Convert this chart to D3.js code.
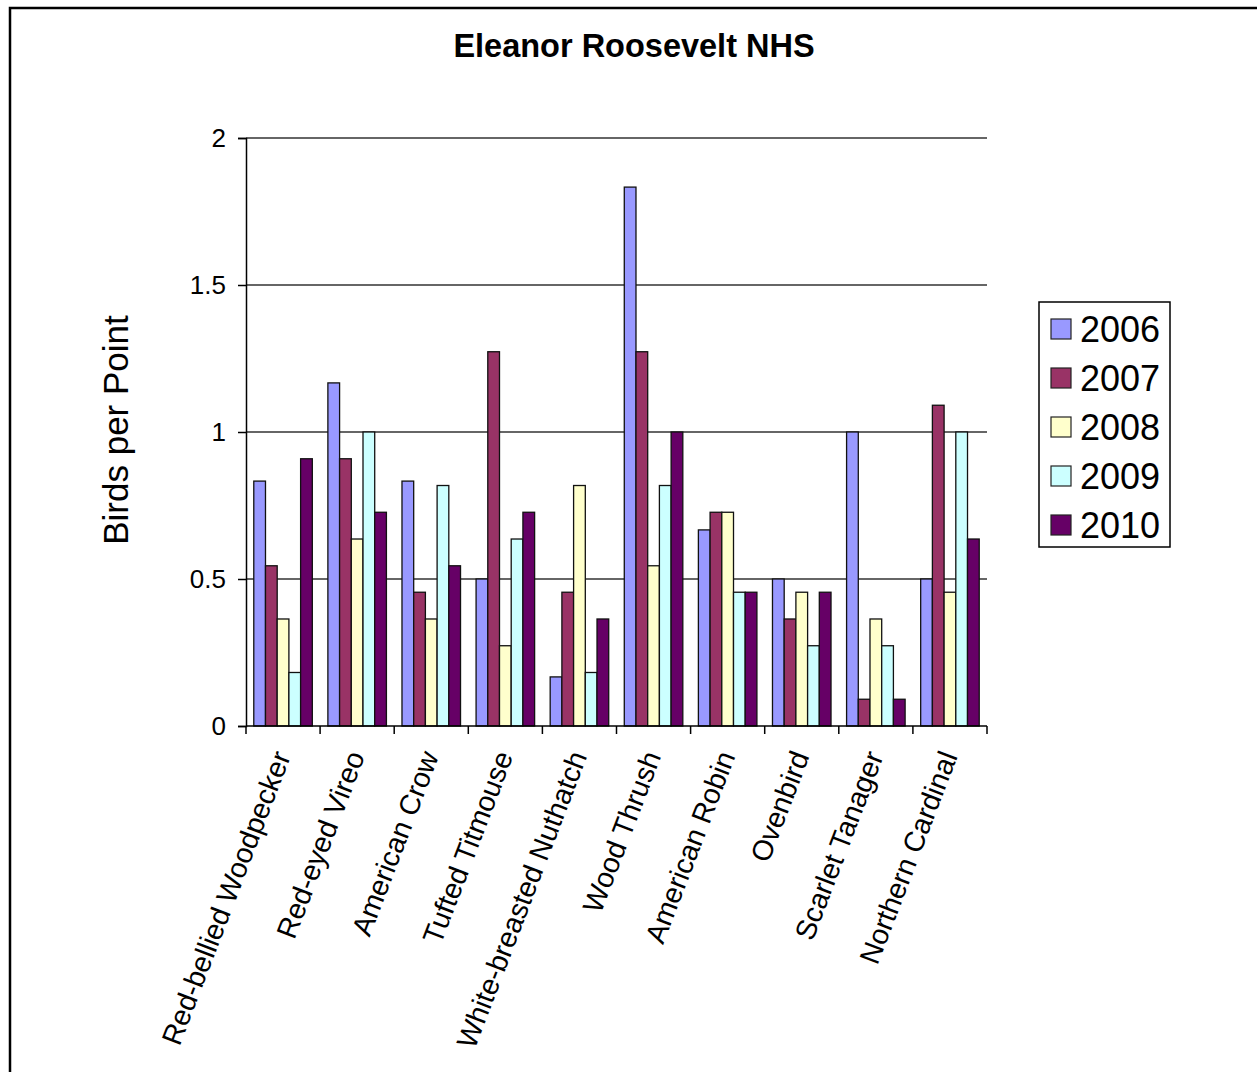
<!DOCTYPE html>
<html><head><meta charset="utf-8">
<script src="https://cdn.jsdelivr.net/npm/d3@7"></script>
<style>body{margin:0;background:#fff}svg{display:block}text{font-family:"Liberation Sans",Arial,sans-serif}</style>
</head><body>
<svg id="c" width="1257" height="1072"></svg>
<script>
const categories = ["Red-bellied Woodpecker","Red-eyed Vireo","American Crow","Tufted Titmouse","White-breasted Nuthatch","Wood Thrush","American Robin","Ovenbird","Scarlet Tanager","Northern Cardinal"];
const years = ["2006","2007","2008","2009","2010"];
const v2006 = [0.833,1.167,0.833,0.5,0.167,1.833,0.667,0.5,1.0,0.5];
const v2007 = [0.545,0.909,0.455,1.273,0.455,1.273,0.727,0.364,0.091,1.091];
const v2008 = [0.364,0.636,0.364,0.273,0.818,0.545,0.727,0.455,0.364,0.455];
const v2009 = [0.182,1.0,0.818,0.636,0.182,0.818,0.455,0.273,0.273,1.0];
const v2010 = [0.909,0.727,0.545,0.727,0.364,1.0,0.455,0.455,0.091,0.636];
const colors = ["#9999FF","#993366","#FFFFCC","#CCFFFF","#660066"];
const yTicks = [0,0.5,1,1.5,2];
const yTickLabels = ["0","0.5","1","1.5","2"];

const series = [v2006,v2007,v2008,v2009,v2010];
const svg = d3.select("#c");

svg.append("rect").attr("x",10).attr("y",8).attr("width",1300).attr("height",1100)
  .attr("fill","none").attr("stroke","#000").attr("stroke-width",2.5);

svg.append("text").attr("x",634).attr("y",57).attr("text-anchor","middle")
  .attr("font-size",32.5).attr("font-weight","bold").text("Eleanor Roosevelt NHS");

const L=246,R=987,T=138,B=726;
const x0 = d3.scaleBand().domain(categories).range([L,R]).paddingInner(0.21).paddingOuter(0.105);
const x1 = d3.scaleBand().domain(years).range([0,x0.bandwidth()]);
const y = d3.scaleLinear().domain([0,2]).range([B,T]);

// gridlines
svg.append("g").selectAll("line").data(yTicks.filter(d=>d>0)).join("line")
  .attr("x1",L).attr("x2",R).attr("y1",d=>y(d)).attr("y2",d=>y(d))
  .attr("stroke","#333").attr("stroke-width",1.3);

// bars
const g = svg.append("g");
categories.forEach((c,i)=>{
  years.forEach((yr,j)=>{
    const v = series[j][i];
    g.append("rect").attr("x",x0(c)+x1(yr)).attr("y",y(v))
      .attr("width",x1.bandwidth()).attr("height",y(0)-y(v))
      .attr("fill",colors[j]).attr("stroke","#111").attr("stroke-width",1.3);
  });
});

// y axis
const ya = d3.axisLeft(y).tickValues(yTicks).tickFormat((d,i)=>yTickLabels[i]).tickSize(8).tickPadding(12);
const yg = svg.append("g").attr("transform",`translate(${L},0)`).call(ya);
yg.select(".domain").attr("stroke","#000").attr("stroke-width",1.5);
yg.selectAll(".tick line").attr("stroke","#000").attr("stroke-width",1.5);
yg.selectAll(".tick text").attr("font-size",26).attr("fill","#000").attr("font-family","Liberation Sans, Arial, sans-serif");

// x axis baseline and ticks
svg.append("line").attr("x1",L).attr("x2",R).attr("y1",B).attr("y2",B).attr("stroke","#000").attr("stroke-width",1.5);
const bounds = categories.map(c=>x0(c)-x0.step()*x0.paddingInner()/2);
bounds.push(R);
bounds[0]=L;
svg.append("g").selectAll("line").data(bounds).join("line")
  .attr("x1",d=>d).attr("x2",d=>d).attr("y1",B).attr("y2",B+8).attr("stroke","#000").attr("stroke-width",1.5);

// category labels
svg.append("g").selectAll("text").data(categories).join("text")
  .attr("transform",c=>`translate(${x0(c)+x0.bandwidth()/2+8},${B+30}) rotate(-69)`)
  .attr("text-anchor","end").attr("font-size",28.5).text(c=>c);

// y title
svg.append("text").attr("transform","translate(128,430) rotate(-90)").attr("text-anchor","middle")
  .attr("font-size",35).text("Birds per Point");

// legend
const lg = svg.append("g");
lg.append("rect").attr("x",1039).attr("y",302).attr("width",131).attr("height",245)
  .attr("fill","#fff").attr("stroke","#000").attr("stroke-width",1.5);
years.forEach((yr,j)=>{
  const cy = 329 + j*49;
  lg.append("rect").attr("x",1051).attr("y",cy-10).attr("width",20).attr("height",20)
    .attr("fill",colors[j]).attr("stroke","#222").attr("stroke-width",1.2);
  lg.append("text").attr("x",1080).attr("y",cy+13).attr("font-size",36).text(yr);
});
</script>
</body></html>
